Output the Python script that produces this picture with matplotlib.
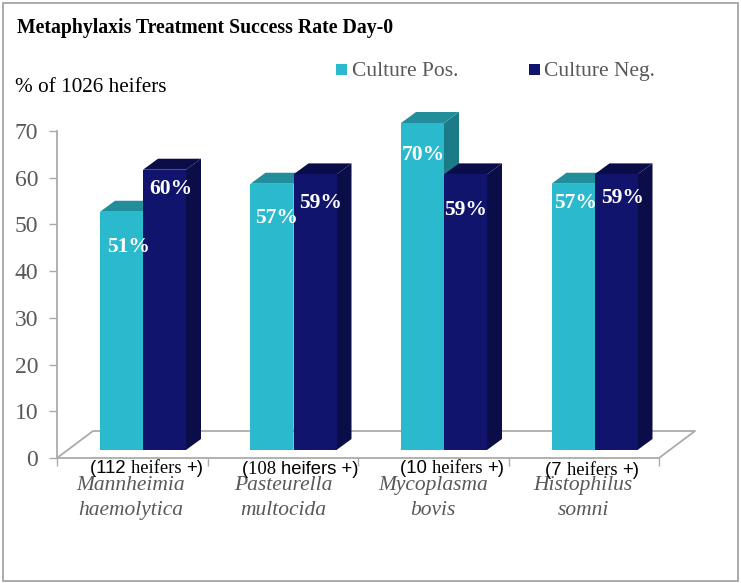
import matplotlib.pyplot as plt
from matplotlib.patches import Rectangle

W, H = 741, 583

organisms = ["Mannheimia\nhaemolytica", "Pasteurella\nmultocida", "Mycoplasma\nbovis", "Histophilus\nsomni"]
culture_pos = [51, 57, 70, 57]
culture_neg = [60, 59, 59, 59]
yticks = [0, 10, 20, 30, 40, 50, 60, 70]

# heifer counts are a mix of two fonts in the original, so kept as runs
SANS, SERIF = "Liberation Sans", "Liberation Serif"
heifer_runs = [
    [("(112 ", SANS), ("heifers ", SERIF), ("+)", SANS)],
    [("(", SANS), ("108 ", SERIF), ("heifers +)", SANS)],
    [("(10 ", SANS), ("heifers ", SERIF), ("+)", SANS)],
    [("(7 ", SANS), ("heifers ", SERIF), ("+)", SANS)],
]

CYAN, CYAN_TOP, CYAN_SIDE = "#2AB9CD", "#238E9B", "#1B7B86"
NAVY, NAVY_DARK = "#10146C", "#0B0D48"
GRID = "#ABABAB"
TEXT = "#595959"


def fx(px):
    return px / W


def fy(py):
    return 1 - py / H


fig = plt.figure(figsize=(W / 100, H / 100), dpi=100)
fig.patches.append(Rectangle((fx(2.5), fy(580.5)), fx(735.5), 578 / H, transform=fig.transFigure,
                             fill=False, ec="#ABABAB", lw=1.4))

# axes spans the front edge of the floor and 0-70
ax = fig.add_axes([fx(57), fy(458), fx(602), 327 / H])
ax.set_xlim(0, 4)
ax.set_ylim(0, 70)
ax.patch.set_alpha(0)
for s in ["top", "right"]:
    ax.spines[s].set_visible(False)
for s in ["left", "bottom"]:
    ax.spines[s].set_color(GRID)
    ax.spines[s].set_linewidth(1.3)
ax.set_xticks(range(5))
ax.set_xticklabels([])
ax.set_yticks(yticks)
ax.tick_params(axis="x", length=6, color=GRID, width=1)
ax.tick_params(axis="y", length=6, color=GRID, width=1, labelsize=17, labelcolor=TEXT, pad=7.5)
for lab in ax.get_yticklabels():
    lab.set_family("Liberation Serif")

# 3d look: depth in axis units
px_x = 4 / 602
px_y = 70 / 327
floor_dx, floor_dy = 36 * px_x, 27 * px_y
ax.plot([0, floor_dx, 4 + floor_dx, 4], [0, floor_dy, floor_dy, 0], color=GRID, lw=1.3, clip_on=False, zorder=1)

width = 43 * px_x
lift = 8 * px_y
dx, dy = 15 * px_x, 11 * px_y


def bar3d(left, val, front, top, side, z):
    b = lift
    t = val + lift
    ax.fill([left + width, left + width + dx, left + width + dx, left + width],
            [b, b + dy, t + dy, t], color=side, lw=0, clip_on=False, zorder=z)
    ax.fill([left, left + dx, left + width + dx, left + width],
            [t, t + dy, t + dy, t], color=top, lw=0, clip_on=False, zorder=z)
    ax.bar(left, val, width, bottom=b, align="edge", color=front, lw=0, clip_on=False, zorder=z)


for i, (p, n) in enumerate(zip(culture_pos, culture_neg)):
    x0 = i + 43 * px_x
    bar3d(x0, p, CYAN, CYAN_TOP, CYAN_SIDE, 2 + i * 2)
    bar3d(x0 + width, n, NAVY, NAVY_DARK, NAVY_DARK, 3 + i * 2)

# value labels sit wherever they were dragged to in the original
pos_label_xy = [(129, 247), (277, 218), (423, 155), (576, 203)]
neg_label_xy = [(171, 189), (321, 203), (466, 210), (623, 198)]
for vals, places in [(culture_pos, pos_label_xy), (culture_neg, neg_label_xy)]:
    for v, (x, y) in zip(vals, places):
        fig.text(fx(x), fy(y), f"{v}%", color="white", family="Liberation Serif", weight="bold",
                 fontsize=15.5, ha="center", va="center", zorder=20)

fig.text(fx(17), fy(33), "Metaphylaxis Treatment Success Rate Day-0", family="Liberation Serif",
         weight="bold", fontsize=14.2, color="black", va="baseline")
fig.text(fx(15), fy(92.5), "% of 1026 heifers", family="Liberation Serif", fontsize=15.3, color="black", va="baseline")

# legend
for x, label, col in [(336, "Culture Pos.", CYAN), (529, "Culture Neg.", NAVY)]:
    fig.patches.append(Rectangle((fx(x), fy(75)), 11 / W, 11 / H, transform=fig.transFigure, fc=col, lw=0))
    fig.text(fx(x + 15.5), fy(76), label, family="Liberation Serif", fontsize=15.5, color=TEXT, va="baseline")

# category names
label_cx = [131, 283, 433, 583]
for name, cx in zip(organisms, label_cx):
    top, bottom = name.split("\n")
    fig.text(fx(cx), fy(490), top, family="Liberation Serif", style="italic", fontsize=15.5, color=TEXT,
             ha="center", va="baseline")
    fig.text(fx(cx), fy(515), bottom, family="Liberation Serif", style="italic", fontsize=15.5, color=TEXT,
             ha="center", va="baseline")

# heifer counts, run by run
fig.canvas.draw()
renderer = fig.canvas.get_renderer()
run_left = [90, 242, 400, 545]
run_y = [473, 473.5, 473, 475]
for runs, x, y in zip(heifer_runs, run_left, run_y):
    for chunk, fam in runs:
        t = fig.text(fx(x), fy(y), chunk, family=fam, fontsize=13.3, color="black", va="baseline", zorder=21)
        x += t.get_window_extent(renderer).width

fig.savefig("out.png", dpi=100)
